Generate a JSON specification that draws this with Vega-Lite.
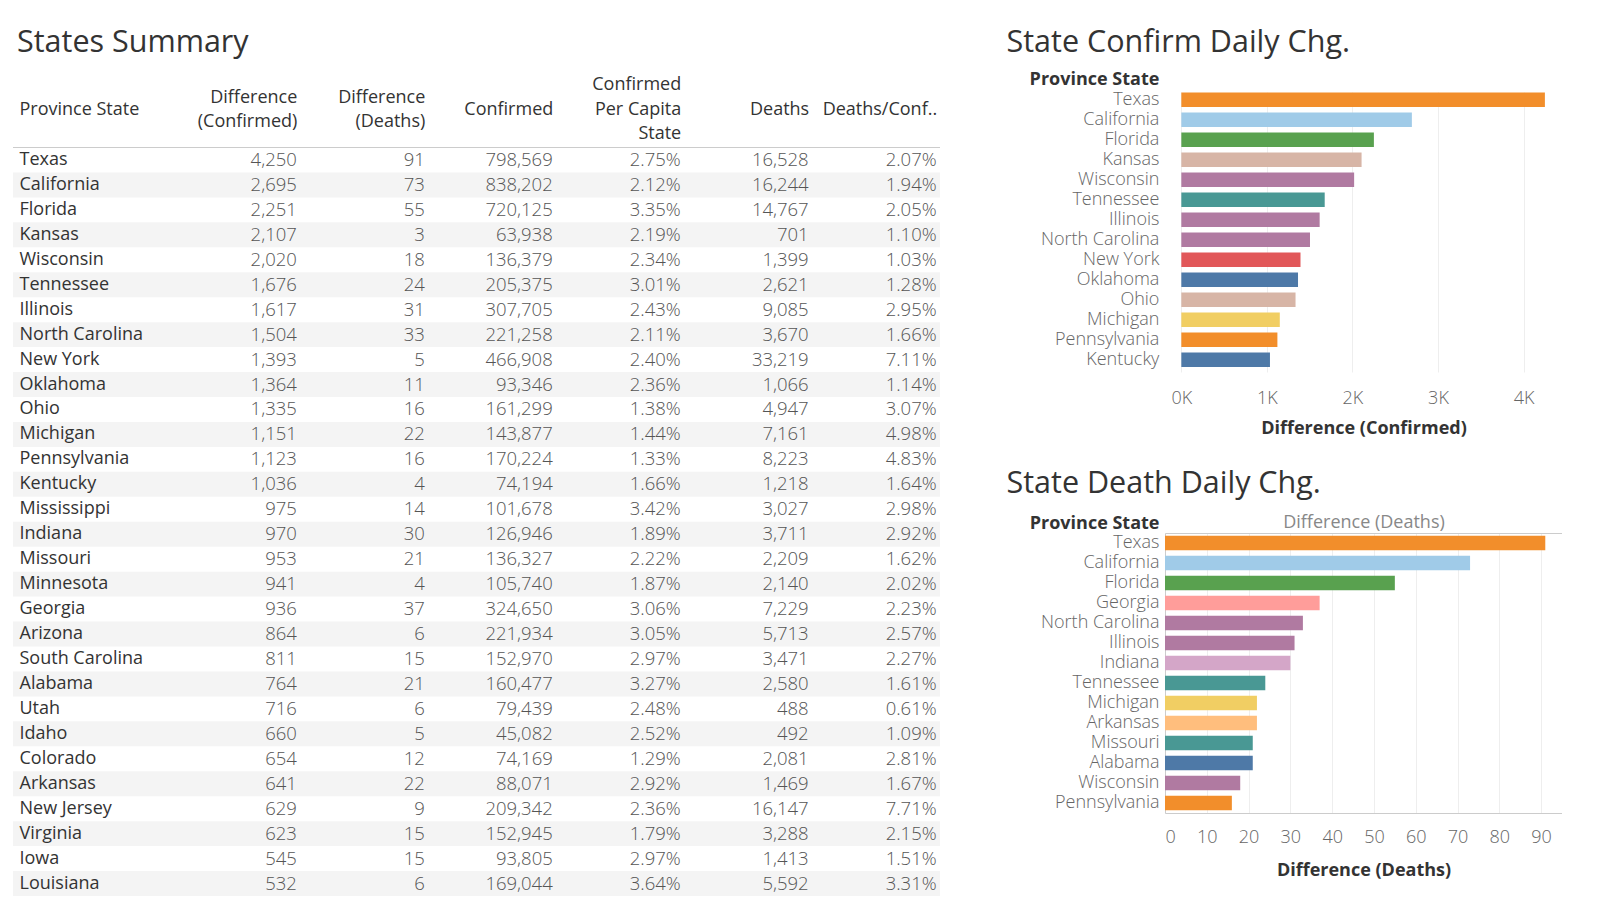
{
  "$schema": "https://vega.github.io/schema/vega-lite/v6.json",
  "background": "white",
  "padding": {"left": 12, "top": 27, "right": 0, "bottom": 0},
  "config": {
    "font": "Open Sans",
    "view": {"stroke": null},
    "axis": {"labelFont": "Open Sans", "titleFont": "Open Sans"},
    "title": {"font": "Open Sans"}
  },
  "datasets": {
    "states": [
      {"state": "Texas", "diffConfirmed": 4250, "diffDeaths": 91, "confirmed": 798569, "perCapita": 0.0275, "deaths": 16528, "deathsConf": 0.0207},
      {"state": "California", "diffConfirmed": 2695, "diffDeaths": 73, "confirmed": 838202, "perCapita": 0.0212, "deaths": 16244, "deathsConf": 0.0194},
      {"state": "Florida", "diffConfirmed": 2251, "diffDeaths": 55, "confirmed": 720125, "perCapita": 0.0335, "deaths": 14767, "deathsConf": 0.0205},
      {"state": "Kansas", "diffConfirmed": 2107, "diffDeaths": 3, "confirmed": 63938, "perCapita": 0.0219, "deaths": 701, "deathsConf": 0.0110},
      {"state": "Wisconsin", "diffConfirmed": 2020, "diffDeaths": 18, "confirmed": 136379, "perCapita": 0.0234, "deaths": 1399, "deathsConf": 0.0103},
      {"state": "Tennessee", "diffConfirmed": 1676, "diffDeaths": 24, "confirmed": 205375, "perCapita": 0.0301, "deaths": 2621, "deathsConf": 0.0128},
      {"state": "Illinois", "diffConfirmed": 1617, "diffDeaths": 31, "confirmed": 307705, "perCapita": 0.0243, "deaths": 9085, "deathsConf": 0.0295},
      {"state": "North Carolina", "diffConfirmed": 1504, "diffDeaths": 33, "confirmed": 221258, "perCapita": 0.0211, "deaths": 3670, "deathsConf": 0.0166},
      {"state": "New York", "diffConfirmed": 1393, "diffDeaths": 5, "confirmed": 466908, "perCapita": 0.0240, "deaths": 33219, "deathsConf": 0.0711},
      {"state": "Oklahoma", "diffConfirmed": 1364, "diffDeaths": 11, "confirmed": 93346, "perCapita": 0.0236, "deaths": 1066, "deathsConf": 0.0114},
      {"state": "Ohio", "diffConfirmed": 1335, "diffDeaths": 16, "confirmed": 161299, "perCapita": 0.0138, "deaths": 4947, "deathsConf": 0.0307},
      {"state": "Michigan", "diffConfirmed": 1151, "diffDeaths": 22, "confirmed": 143877, "perCapita": 0.0144, "deaths": 7161, "deathsConf": 0.0498},
      {"state": "Pennsylvania", "diffConfirmed": 1123, "diffDeaths": 16, "confirmed": 170224, "perCapita": 0.0133, "deaths": 8223, "deathsConf": 0.0483},
      {"state": "Kentucky", "diffConfirmed": 1036, "diffDeaths": 4, "confirmed": 74194, "perCapita": 0.0166, "deaths": 1218, "deathsConf": 0.0164},
      {"state": "Mississippi", "diffConfirmed": 975, "diffDeaths": 14, "confirmed": 101678, "perCapita": 0.0342, "deaths": 3027, "deathsConf": 0.0298},
      {"state": "Indiana", "diffConfirmed": 970, "diffDeaths": 30, "confirmed": 126946, "perCapita": 0.0189, "deaths": 3711, "deathsConf": 0.0292},
      {"state": "Missouri", "diffConfirmed": 953, "diffDeaths": 21, "confirmed": 136327, "perCapita": 0.0222, "deaths": 2209, "deathsConf": 0.0162},
      {"state": "Minnesota", "diffConfirmed": 941, "diffDeaths": 4, "confirmed": 105740, "perCapita": 0.0187, "deaths": 2140, "deathsConf": 0.0202},
      {"state": "Georgia", "diffConfirmed": 936, "diffDeaths": 37, "confirmed": 324650, "perCapita": 0.0306, "deaths": 7229, "deathsConf": 0.0223},
      {"state": "Arizona", "diffConfirmed": 864, "diffDeaths": 6, "confirmed": 221934, "perCapita": 0.0305, "deaths": 5713, "deathsConf": 0.0257},
      {"state": "South Carolina", "diffConfirmed": 811, "diffDeaths": 15, "confirmed": 152970, "perCapita": 0.0297, "deaths": 3471, "deathsConf": 0.0227},
      {"state": "Alabama", "diffConfirmed": 764, "diffDeaths": 21, "confirmed": 160477, "perCapita": 0.0327, "deaths": 2580, "deathsConf": 0.0161},
      {"state": "Utah", "diffConfirmed": 716, "diffDeaths": 6, "confirmed": 79439, "perCapita": 0.0248, "deaths": 488, "deathsConf": 0.0061},
      {"state": "Idaho", "diffConfirmed": 660, "diffDeaths": 5, "confirmed": 45082, "perCapita": 0.0252, "deaths": 492, "deathsConf": 0.0109},
      {"state": "Colorado", "diffConfirmed": 654, "diffDeaths": 12, "confirmed": 74169, "perCapita": 0.0129, "deaths": 2081, "deathsConf": 0.0281},
      {"state": "Arkansas", "diffConfirmed": 641, "diffDeaths": 22, "confirmed": 88071, "perCapita": 0.0292, "deaths": 1469, "deathsConf": 0.0167},
      {"state": "New Jersey", "diffConfirmed": 629, "diffDeaths": 9, "confirmed": 209342, "perCapita": 0.0236, "deaths": 16147, "deathsConf": 0.0771},
      {"state": "Virginia", "diffConfirmed": 623, "diffDeaths": 15, "confirmed": 152945, "perCapita": 0.0179, "deaths": 3288, "deathsConf": 0.0215},
      {"state": "Iowa", "diffConfirmed": 545, "diffDeaths": 15, "confirmed": 93805, "perCapita": 0.0297, "deaths": 1413, "deathsConf": 0.0151},
      {"state": "Louisiana", "diffConfirmed": 532, "diffDeaths": 6, "confirmed": 169044, "perCapita": 0.0364, "deaths": 5592, "deathsConf": 0.0331}
    ]
  },
  "spacing": 65,
  "hconcat": [
    {
      "width": 927,
      "height": 805,
      "title": {"text": "States Summary", "anchor": "start", "frame": "group", "dx": 4, "fontSize": 30.5, "fontWeight": "normal", "color": "#333333", "offset": 17},
      "data": {"name": "states"},
      "encoding": {
        "y": {
          "field": "state", "type": "nominal",
          "scale": {
            "domain": ["h1", "h2", "Texas", "California", "Florida", "Kansas", "Wisconsin", "Tennessee", "Illinois", "North Carolina", "New York", "Oklahoma", "Ohio", "Michigan", "Pennsylvania", "Kentucky", "Mississippi", "Indiana", "Missouri", "Minnesota", "Georgia", "Arizona", "South Carolina", "Alabama", "Utah", "Idaho", "Colorado", "Arkansas", "New Jersey", "Virginia", "Iowa", "Louisiana"],
            "paddingInner": 0, "paddingOuter": 0.132, "align": 0.85
          },
          "axis": {
            "orient": "left", "title": "Province State",
            "labelExpr": "datum.value == 'h1' || datum.value == 'h2' ? '' : datum.label",
            "labelAlign": "left", "labelBaseline": "middle", "labelPadding": -6, "ticks": false, "tickSize": 0, "domain": false,
            "labelFontSize": 18, "labelColor": "#333333", "labelLimit": 300, "zindex": 1,
            "titleAngle": 0, "titleAlign": "left", "titleBaseline": "middle", "titleX": 6, "titleY": 17,
            "titleFontSize": 18, "titleFontWeight": "normal", "titleColor": "#333333"
          }
        }
      },
      "layer": [
        {
          "transform": [{"window": [{"op": "row_number", "as": "rowIndex"}]}, {"filter": "datum.rowIndex % 2 == 0"}],
          "mark": {"type": "rect", "color": "#f4f4f4"}
        },
        {
          "transform": [{"window": [{"op": "row_number", "as": "rowIndex"}]}, {"filter": "datum.rowIndex == 1"}],
          "mark": {"type": "rule", "color": "#cccccc", "strokeWidth": 1},
          "encoding": {"y": {"field": "state", "type": "nominal", "bandPosition": 0}}
        },
        {
          "transform": [{"fold": ["diffConfirmed", "diffDeaths", "confirmed", "perCapita", "deaths", "deathsConf"], "as": ["column", "value"]}],
          "mark": {"type": "text", "align": "right", "baseline": "middle", "fontSize": 18.5, "fontWeight": 300, "color": "#555555"},
          "encoding": {
            "x": {
              "field": "column", "type": "nominal",
              "scale": {"type": "point", "domain": ["pad", "diffConfirmed", "diffDeaths", "confirmed", "perCapita", "deaths", "deathsConf"], "padding": 0.622, "align": 0.979},
              "axis": {
                "orient": "top", "title": null, "ticks": false, "tickSize": 0, "domain": false,
                "labelAlign": "right", "labelBaseline": "middle", "labelAngle": 0,
                "labelPadding": {"condition": [{"test": "datum.value == 'perCapita'", "value": 7.3}, {"test": "datum.value == 'diffConfirmed' || datum.value == 'diffDeaths'", "value": -5}], "value": -17},
                "labelFontSize": 18, "labelColor": "#333333", "labelLineHeight": 24.5,
                "labelLimit": 400, "labelOverlap": false, "labelBound": false,
                "labelExpr": "datum.value == 'pad' ? '' : datum.value == 'diffConfirmed' ? ['Difference', '(Confirmed)'] : datum.value == 'diffDeaths' ? ['Difference', '(Deaths)'] : datum.value == 'confirmed' ? 'Confirmed' : datum.value == 'perCapita' ? ['Confirmed', 'Per Capita', 'State'] : datum.value == 'deaths' ? 'Deaths' : 'Deaths/Conf..'"
              }
            },
            "text": {
              "condition": {"test": "datum.column == 'perCapita' || datum.column == 'deathsConf'", "field": "value", "type": "quantitative", "format": ".2%"},
              "field": "value", "type": "quantitative", "format": ","
            }
          }
        }
      ]
    },
    {
      "spacing": 31,
      "vconcat": [
        {
          "width": 397,
          "height": 280,
          "title": {"text": "State Confirm Daily Chg.", "anchor": "start", "frame": "group", "dx": -158.5, "fontSize": 30.5, "fontWeight": "normal", "color": "#333333", "offset": 12.6},
          "data": {"name": "states"},
          "transform": [{"filter": {"field": "state", "oneOf": ["Texas", "California", "Florida", "Kansas", "Wisconsin", "Tennessee", "Illinois", "North Carolina", "New York", "Oklahoma", "Ohio", "Michigan", "Pennsylvania", "Kentucky"]}}],
          "mark": {"type": "bar"},
          "encoding": {
            "y": {
              "field": "state", "type": "nominal",
              "sort": ["Texas", "California", "Florida", "Kansas", "Wisconsin", "Tennessee", "Illinois", "North Carolina", "New York", "Oklahoma", "Ohio", "Michigan", "Pennsylvania", "Kentucky"],
              "scale": {"paddingInner": 0.28, "paddingOuter": 0.14, "align": 0.1},
              "axis": {
                "title": "Province State", "ticks": false, "domain": false, "labelPadding": 6.1,
                "labelFontSize": 18, "labelFontWeight": 300, "labelColor": "#666666", "labelLimit": 300,
                "titleAngle": 0, "titleAlign": "right", "titleBaseline": "middle", "titleX": -6.1, "titleY": -12.4,
                "titleFontSize": 18, "titleFontWeight": "bold", "titleColor": "#333333"
              }
            },
            "x": {
              "field": "diffConfirmed", "type": "quantitative",
              "scale": {"domain": [-191, 4450], "nice": false, "zero": false},
              "axis": {
                "values": [0, 1000, 2000, 3000, 4000], "labelExpr": "datum.value / 1000 + 'K'",
                "grid": true, "gridColor": "#eeeeee", "domain": false, "ticks": false, "labelPadding": 17,
                "labelFontSize": 18, "labelFontWeight": 300, "labelColor": "#666666",
                "title": "Difference (Confirmed)", "titleFontSize": 18, "titleColor": "#333333", "titleFontWeight": "bold", "titlePadding": 12
              }
            },
            "color": {
              "field": "state", "type": "nominal", "legend": null,
              "scale": {
                "domain": ["Texas", "California", "Florida", "Kansas", "Wisconsin", "Tennessee", "Illinois", "North Carolina", "New York", "Oklahoma", "Ohio", "Michigan", "Pennsylvania", "Kentucky", "Georgia", "Indiana", "Arkansas", "Missouri", "Alabama"],
                "range": ["#F28E2B", "#A0CBE8", "#59A14F", "#D7B5A6", "#B07AA1", "#499894", "#B07AA1", "#B07AA1", "#E15759", "#4E79A7", "#D7B5A6", "#F1CE63", "#F28E2B", "#4E79A7", "#FF9D9A", "#D4A6C8", "#FFBE7D", "#499894", "#4E79A7"]
              }
            }
          }
        },
        {
          "width": 397,
          "height": 280,
          "title": {"text": "State Death Daily Chg.", "anchor": "start", "frame": "group", "dx": -158.5, "fontSize": 30.5, "fontWeight": "normal", "color": "#333333", "offset": 14},
          "data": {"name": "states"},
          "transform": [{"filter": {"field": "state", "oneOf": ["Texas", "California", "Florida", "Georgia", "North Carolina", "Illinois", "Indiana", "Tennessee", "Michigan", "Arkansas", "Missouri", "Alabama", "Wisconsin", "Pennsylvania"]}}],
          "encoding": {
            "y": {
              "field": "state", "type": "nominal",
              "sort": ["Texas", "California", "Florida", "Georgia", "North Carolina", "Illinois", "Indiana", "Tennessee", "Michigan", "Arkansas", "Missouri", "Alabama", "Wisconsin", "Pennsylvania"],
              "scale": {"paddingInner": 0.28, "paddingOuter": 0.14},
              "axis": {
                "title": "Province State", "ticks": false, "domain": true, "domainColor": "#cccccc", "labelPadding": 6,
                "labelFontSize": 18, "labelFontWeight": 300, "labelColor": "#666666", "labelLimit": 300,
                "titleAngle": 0, "titleAlign": "right", "titleBaseline": "middle", "titleX": -6, "titleY": -10,
                "titleFontSize": 18, "titleFontWeight": "bold", "titleColor": "#333333"
              }
            }
          },
          "layer": [
            {
              "mark": {"type": "bar"},
              "encoding": {
                "x": {
                  "field": "diffDeaths", "type": "quantitative",
                  "scale": {"domain": [0, 95], "nice": false},
                  "axis": {
                    "values": [0, 10, 20, 30, 40, 50, 60, 70, 80, 90], "labelFlush": true,
                    "grid": true, "gridColor": "#eeeeee", "domain": true, "domainColor": "#cccccc", "ticks": false, "labelPadding": 15,
                    "labelFontSize": 18, "labelFontWeight": 300, "labelColor": "#666666",
                    "title": "Difference (Deaths)", "titleFontSize": 18, "titleColor": "#333333", "titleFontWeight": "bold", "titlePadding": 15
                  }
                },
                "color": {
                  "field": "state", "type": "nominal", "legend": null,
                  "scale": {
                    "domain": ["Texas", "California", "Florida", "Kansas", "Wisconsin", "Tennessee", "Illinois", "North Carolina", "New York", "Oklahoma", "Ohio", "Michigan", "Pennsylvania", "Kentucky", "Georgia", "Indiana", "Arkansas", "Missouri", "Alabama"],
                    "range": ["#F28E2B", "#A0CBE8", "#59A14F", "#D7B5A6", "#B07AA1", "#499894", "#B07AA1", "#B07AA1", "#E15759", "#4E79A7", "#D7B5A6", "#F1CE63", "#F28E2B", "#4E79A7", "#FF9D9A", "#D4A6C8", "#FFBE7D", "#499894", "#4E79A7"]
                  }
                }
              }
            },
            {
              "mark": {"type": "tick", "opacity": 0},
              "encoding": {
                "x": {
                  "field": "diffDeaths", "type": "quantitative",
                  "axis": {
                    "orient": "top", "labels": false, "ticks": false, "grid": false, "domain": true, "domainColor": "#cccccc",
                    "title": "Difference (Deaths)", "titleFontSize": 18, "titleColor": "#888888", "titleFontWeight": "normal", "titlePadding": 2
                  }
                }
              }
            }
          ],
          "resolve": {"axis": {"x": "independent"}}
        }
      ]
    }
  ]
}
